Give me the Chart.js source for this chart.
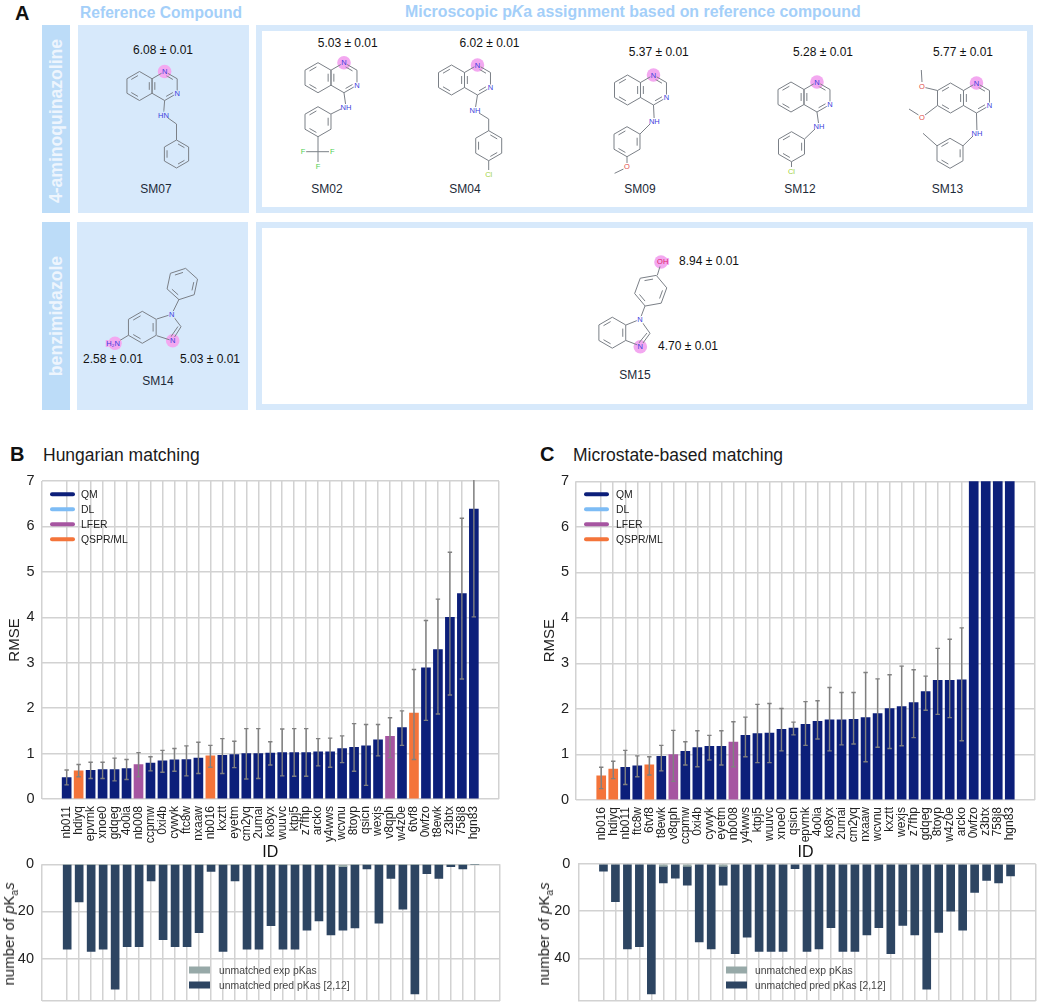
<!DOCTYPE html>
<html>
<head>
<meta charset="utf-8">
<title>pKa figure</title>
<script src="https://cdn.jsdelivr.net/npm/chart.js@4/dist/chart.umd.min.js"></script>
<style>
    html, body { margin: 0; padding: 0; background: #fff; }
    body { position: relative; width: 1039px; height: 1005px; overflow: hidden; font-family: "Liberation Sans", Arial, sans-serif; color: #111; }
    canvas, svg, .abs { position: absolute; }
    svg { left: 0; top: 0; }
    .letter { font-weight: bold; font-size: 20px; }
    .title { font-size: 17.5px; color: #1a1a1a; white-space: nowrap; }
    .head { font-weight: bold; font-size: 15.6px; color: #a4cff9; white-space: nowrap; }
    .side { background: #bcdcf8; }
    .side span { position: absolute; left: 50%; top: 50%; transform: translate(-50%, -50%) rotate(-90deg); color: #eef5fd; font-weight: bold; font-size: 17.6px; white-space: nowrap; }
    .solid { background: #d7e9fb; }
    .frame { box-sizing: border-box; border: 6px solid #d7e9fb; }
    .val, .sm { font-size: 12px; white-space: nowrap; transform: translate(-50%, -50%); }
    .sm { color: #1d2a38; }
    .ylab { font-size: 15px; white-space: nowrap; transform: translate(-50%, -50%) rotate(-90deg); color: #222; }
    .leg { font-size: 10.4px; color: #222; white-space: nowrap; transform: translateY(-50%); }
    .line { height: 3.5px; width: 25px; border-radius: 2px; transform: translateY(-50%); }
    .swatch { height: 7px; width: 21px; transform: translateY(-50%); }
</style>
</head>
<body>
<div class="abs letter" style="left:15px;top:2px">A</div>
<div class="abs head" style="left:80px;top:4px">Reference Compound</div>
<div class="abs head" style="left:405px;top:3px;font-size:15.9px">Microscopic p<i>K</i>a assignment based on reference compound</div>

<div class="abs side" style="left:41.5px;top:25px;width:28.5px;height:192px"><span>4-aminoquinazoline</span></div>
<div class="abs" style="left:41.5px;top:213px;width:28.5px;height:5px;background:#fff"></div>
<div class="abs solid" style="left:78px;top:25px;width:171px;height:188px"></div>
<div class="abs frame" style="left:256px;top:25px;width:777px;height:188px"></div>
<div class="abs side" style="left:41.5px;top:222px;width:28.5px;height:188px"><span>benzimidazole</span></div>
<div class="abs solid" style="left:77px;top:222px;width:171px;height:188px"></div>
<div class="abs frame" style="left:256px;top:222px;width:777px;height:188px"></div>
<svg id="mols" width="1039" height="420"></svg>
<div id="notes"></div>

<div class="abs letter" style="left:10px;top:443px">B</div>
<div class="abs title" style="left:43px;top:445px">Hungarian matching</div>
<div class="abs letter" style="left:540px;top:443px">C</div>
<div class="abs title" style="left:573px;top:445px">Microstate-based matching</div>

<canvas id="rmseHungarian" width="515" height="392" style="left:0;top:470px"></canvas>
<canvas id="rmseMicrostate" width="504" height="392" style="left:535px;top:470px"></canvas>
<canvas id="countHungarian" width="515" height="147" style="left:0;top:858px"></canvas>
<canvas id="countMicrostate" width="504" height="147" style="left:535px;top:858px"></canvas>

<div class="abs ylab" style="left:10px;top:934px">number of <i>p</i>K<sub style="font-size:10px">a</sub><i>s</i></div>
<div class="abs ylab" style="left:545px;top:934px">number of <i>p</i>K<sub style="font-size:10px">a</sub><i>s</i></div>
<div id="legends"></div>

<script>
// Panel B values (Hungarian matching)
const idsB = ['nb011','hdiyq','epvmk','xnoe0','gdqeg','4o0ia','nb008','ccpmw','0xi4b','cywyk','ftc8w','nxaaw','nb016','kxztt','eyetm','cm2yq','2umai','ko8yx','wuuvc','ktpj5','z7fhp','arcko','y4wws','wcvnu','8toyp','qsicn','wexjs','v8qph','w4z0e','6tvf8','0wfzo','t8ewk','z3btx','758j8','hgn83'];
const rmseB = [0.47,0.62,0.63,0.65,0.65,0.67,0.76,0.79,0.84,0.86,0.87,0.90,0.95,0.96,0.98,1.00,1.00,1.01,1.02,1.02,1.02,1.04,1.04,1.11,1.14,1.17,1.30,1.38,1.57,1.89,2.89,3.29,4.00,4.52,6.38];
const lowB = [0.31,0.49,0.45,0.45,0.40,0.43,0.49,0.62,0.59,0.61,0.51,0.56,0.70,0.56,0.69,0.44,0.45,0.75,0.51,0.50,0.50,0.73,0.70,0.80,0.61,0.30,0.95,0.91,1.18,0.87,1.73,1.87,2.29,2.64,4.01];
const highB = [0.64,0.76,0.81,0.81,0.90,0.87,1.02,0.93,1.07,1.11,1.17,1.25,1.18,1.33,1.27,1.55,1.55,1.26,1.54,1.55,1.55,1.33,1.34,1.39,1.66,1.64,1.64,1.79,1.94,2.85,3.93,4.40,5.43,6.18,7.80];
const groupB = ['QM','QSPR/ML','QM','QM','QM','QM','LFER','QM','QM','QM','QM','QM','QSPR/ML','QM','QM','QM','QM','QM','QM','QM','QM','QM','QM','QM','QM','QM','QM','LFER','QM','QSPR/ML','QM','QM','QM','QM','QM'];
const expB = [0,0,0,0,0,0,0,0,0,0,0,0,0,0,0,0,0,0,0,0,0,0,0,1,0,0,0,0,0,0,0,0,0,0,0];
const predB = [36,16,37,36,53,35,35,7,32,35,35,29,3,37,7,36,36,26,36,36,28,24,30,27,27,2,25,6,19,55,4,6,1,2,0];

// Panel C values (Microstate-based matching)
const idsC = ['nb016','hdiyq','nb011','ftc8w','6tvf8','t8ewk','v8qph','ccpmw','0xi4b','cywyk','eyetm','nb008','y4wws','ktpj5','wuuvc','xnoe0','qsicn','epvmk','4o0ia','ko8yx','2umai','cm2yq','nxaaw','wcvnu','kxztt','wexjs','z7fhp','gdqeg','8toyp','w4z0e','arcko','0wfzo','z3btx','758j8','hgn83'];
const rmseC = [0.53,0.68,0.72,0.75,0.77,0.96,1.00,1.07,1.15,1.18,1.18,1.27,1.42,1.46,1.47,1.55,1.58,1.66,1.73,1.76,1.76,1.77,1.81,1.90,2.01,2.05,2.14,2.38,2.63,2.63,2.64,9,9,9,9];
const lowC = [0.25,0.47,0.34,0.51,0.55,0.64,0.41,0.77,0.73,0.88,0.77,0.73,0.95,0.82,0.82,1.08,1.43,1.20,1.34,1.08,1.21,1.23,0.84,1.16,1.13,1.19,1.37,1.97,1.88,1.81,1.30,null,null,null,null];
const highC = [0.72,0.85,1.09,0.97,0.95,1.20,1.53,1.28,1.52,1.42,1.52,1.72,1.82,2.10,2.12,2.01,1.71,2.16,2.18,2.47,2.36,2.36,2.80,2.66,2.75,2.94,2.86,2.72,3.33,3.53,3.78,null,null,null,null];
const groupC = ['QSPR/ML','QSPR/ML','QM','QM','QSPR/ML','QM','LFER','QM','QM','QM','QM','LFER','QM','QM','QM','QM','QM','QM','QM','QM','QM','QM','QM','QM','QM','QM','QM','QM','QM','QM','QM','QM','QM','QM','QM'];
const expC = [0,0,0,0,0,1,0,1,0,0,1,0,0,0,0,0,0,0,0,0,0,0,0,0,0,0,0,0,0,0,0,0,0,0,0];
const predC = [3,16,36,35,55,7,6,8,33,36,8,38,31,37,37,37,2,37,36,27,37,37,30,27,38,26,30,53,29,20,28,12,7,8,5];

const groups = ['QM','DL','LFER','QSPR/ML'];
const groupColors = ['#0c1f7a','#7dbcf5','#a655a1','#f4743a'];
const countNames = ['unmatched exp pKas','unmatched pred pKas [2,12]'];
const countColors = ['#97a9a8','#2d4562'];
const rmseTicks = [0,1,2,3,4,5,6,7];
const countTicks = [0,20,40];
const countMax = 58;

Chart.defaults.font.family = '"Liberation Sans", Arial, sans-serif';
Chart.defaults.color = '#222';
Chart.defaults.animation = false;
Chart.defaults.responsive = false;
Chart.defaults.plugins.legend.display = false;
Chart.defaults.plugins.tooltip.enabled = false;

const gridColor = '#d2d2d2';
const xMin = -2.1, xMax = 36.1;

// keeps the plot rectangle where the layout padding puts it
function noScalePadding(scale) {
    scale.paddingLeft = scale.paddingRight = scale.paddingTop = scale.paddingBottom = 0;
}

// grey whiskers on top of the bars, clipped at the plot edge
const errorBars = {
    id: 'errorBars',
    afterDatasetsDraw(chart, args, opts) {
        const { ctx, chartArea, scales } = chart;
        ctx.save();
        ctx.beginPath();
        ctx.rect(chartArea.left, chartArea.top - 1, chartArea.width, chartArea.height + 2);
        ctx.clip();
        ctx.strokeStyle = '#808080';
        ctx.lineWidth = 1.4;
        opts.low.forEach((low, i) => {
            if (low === null) return;
            const x = scales.x.getPixelForValue(i);
            const y1 = scales.y.getPixelForValue(low);
            const y2 = scales.y.getPixelForValue(opts.high[i]);
            ctx.beginPath();
            ctx.moveTo(x, y1); ctx.lineTo(x, y2);
            ctx.moveTo(x - 2.2, y1); ctx.lineTo(x + 2.2, y1);
            ctx.moveTo(x - 2.2, y2); ctx.lineTo(x + 2.2, y2);
            ctx.stroke();
        });
        ctx.restore();
    }
};

// x axis shared by all four charts: a tick per compound plus the two plot edges
function idAxis(names, height, showLabels) {
    return {
        type: 'linear',
        min: xMin,
        max: xMax,
        offset: false,
        afterBuildTicks: scale => {
            scale.ticks = [xMin, ...names.map((_, i) => i), xMax].map(value => ({ value }));
        },
        afterFit: scale => { scale.height = height; noScalePadding(scale); },
        grid: { color: gridColor, lineWidth: 1.5, drawTicks: false, offset: false },
        border: { display: false },
        ticks: {
            autoSkip: false,
            minRotation: 90,
            maxRotation: 90,
            padding: 7,
            font: { size: 12 },
            color: '#222',
            callback: value => (showLabels && Number.isInteger(value) ? names[value] : '')
        },
        title: { display: showLabels, text: 'ID', font: { size: 16 }, padding: 0, color: '#111' }
    };
}

function rmseChart(canvasId, names, rmse, low, high, group, yWidth, padding) {
    new Chart(document.getElementById(canvasId), {
        type: 'bar',
        data: {
            labels: names.map((_, i) => i),
            datasets: [{
                data: rmse,
                backgroundColor: group.map(g => groupColors[groups.indexOf(g)]),
                barThickness: 9
            }]
        },
        options: {
            layout: { padding },
            scales: {
                x: idAxis(names, padding.xHeight, true),
                y: {
                    min: 0,
                    max: 7,
                    afterBuildTicks: scale => { scale.ticks = rmseTicks.map(value => ({ value })); },
                    afterFit: scale => { scale.width = yWidth; noScalePadding(scale); },
                    grid: { color: gridColor, lineWidth: 1.5, drawTicks: false },
                    border: { display: false },
                    ticks: { padding: 7, font: { size: 14.5 }, color: '#222' },
                    title: { display: true, text: 'RMSE', font: { size: 15 }, padding: { top: 6, bottom: 0 }, color: '#222' }
                }
            },
            plugins: { errorBars: { low, high } }
        },
        plugins: [errorBars]
    });
}

function countChart(canvasId, names, exp, pred, yWidth, padding) {
    new Chart(document.getElementById(canvasId), {
        type: 'bar',
        data: {
            labels: names.map((_, i) => i),
            datasets: [
                { label: countNames[0], data: exp, backgroundColor: countColors[0], barThickness: 8 },
                { label: countNames[1], data: pred, backgroundColor: countColors[1], barThickness: 8 }
            ]
        },
        options: {
            layout: { padding },
            scales: {
                x: Object.assign(idAxis(names, 4, false), { stacked: true }),
                y: {
                    stacked: true,
                    reverse: true,
                    min: 0,
                    max: countMax,
                    afterBuildTicks: scale => { scale.ticks = [...countTicks, countMax].map(value => ({ value })); },
                    afterFit: scale => { scale.width = yWidth; noScalePadding(scale); },
                    grid: { color: gridColor, lineWidth: 1.5, drawTicks: false },
                    border: { display: false },
                    ticks: {
                        padding: 8,
                        font: { size: 14.5 },
                        color: '#222',
                        callback: value => (countTicks.includes(value) ? value : '')
                    }
                }
            }
        }
    });
}

rmseChart('rmseHungarian', idsB, rmseB, lowB, highB, groupB, 41.5, { top: 11, right: 16, left: 0, bottom: 0, xHeight: 63 });
rmseChart('rmseMicrostate', idsC, rmseC, lowC, highC, groupC, 41, { top: 11.3, right: 4, left: 0, bottom: 0, xHeight: 62 });
countChart('countHungarian', idsB, expB, predB, 42, { top: 6.3, right: 15, left: 0, bottom: 0 });
countChart('countMicrostate', idsC, expC, predC, 43.3, { top: 6, right: 3.3, left: 0, bottom: 0 });

// legends sit over the plots at fixed spots, so they are plain html
const legendBox = document.getElementById('legends');
function addDiv(parent, cls, x, y, style, html) {
    const d = document.createElement('div');
    d.className = 'abs ' + cls;
    d.style.cssText = `left:${x}px;top:${y}px;${style || ''}`;
    if (html) d.innerHTML = html;
    parent.appendChild(d);
}
[[50, 81], [584, 616]].forEach(([lineX, textX]) => {
    groups.forEach((g, i) => {
        const y = 494 + i * 15.1;
        addDiv(legendBox, 'line', lineX, y, `background:${groupColors[i]}`);
        addDiv(legendBox, 'leg', textX, y, '', g);
    });
});
[[189.3, 219], [725.7, 755]].forEach(([swatchX, textX]) => {
    countNames.forEach((name, i) => {
        const y = 970 + i * 15;
        addDiv(legendBox, 'swatch', swatchX, y, `background:${countColors[i]}`);
        addDiv(legendBox, 'leg', textX, y, 'color:#444', name);
    });
});

// Panel A: measured values and compound names
const pkaNotes = [
    ['6.08', 163, 50], ['5.03', 347.7, 43], ['6.02', 489.5, 43], ['5.37', 658.8, 52], ['5.28', 823, 52], ['5.77', 963, 52],
    ['2.58', 113, 359], ['5.03', 210, 359], ['8.94', 709, 261], ['4.70', 688, 346]
];
const compoundNotes = [
    ['SM07', 156, 189], ['SM02', 327, 189], ['SM04', 465, 189], ['SM09', 640, 189], ['SM12', 800, 189], ['SM13', 947.4, 189],
    ['SM14', 158, 381], ['SM15', 635, 375]
];
const notes = document.getElementById('notes');
pkaNotes.forEach(([v, x, y]) => addDiv(notes, 'val', x, y, '', v + ' ± 0.01'));
compoundNotes.forEach(([n, x, y]) => addDiv(notes, 'sm', x, y, '', n));

// Panel A: structure sketches
const svg = document.getElementById('mols');
const NS = 'http://www.w3.org/2000/svg';
const bondColor = '#7b8087';
function el(name, attrs, text) {
    const e = document.createElementNS(NS, name);
    for (const k in attrs) e.setAttribute(k, attrs[k]);
    if (text) e.textContent = text;
    svg.appendChild(e);
}
function bond(x1, y1, x2, y2, color) {
    el('line', { x1, y1, x2, y2, stroke: color || bondColor, 'stroke-width': 1 });
}
function halo(x, y) { el('circle', { cx: x, cy: y, r: 6.8, fill: '#f3a8f0' }); }
function atom(x, y, text, color, bg) {
    el('text', {
        x, y: y + 2.6, 'text-anchor': 'middle', 'font-size': 7.5, fill: color || '#3c3cdc',
        'font-family': 'Liberation Sans', stroke: bg || '#fff', 'stroke-width': 2, 'paint-order': 'stroke'
    }, text);
}
// ring with inner lines on alternate edges
function ring(cx, cy, r, rot, inner) {
    const pts = [];
    for (let i = 0; i < 6; i++) {
        const a = (rot + 90 + i * 60) * Math.PI / 180;
        pts.push([cx + r * Math.cos(a), cy + r * Math.sin(a)]);
    }
    pts.forEach((p, i) => {
        const q = pts[(i + 1) % 6];
        bond(p[0], p[1], q[0], q[1]);
        if ((i % 2) === inner) {
            const k = 0.78;
            const ax = cx + (p[0] - cx) * k, ay = cy + (p[1] - cy) * k;
            const bx = cx + (q[0] - cx) * k, by = cy + (q[1] - cy) * k;
            const m = 0.16;
            bond(ax + (bx - ax) * m, ay + (by - ay) * m, bx - (bx - ax) * m, by - (by - ay) * m);
        }
    });
    return pts;
}
// fused quinazoline; returns the carbon that carries the amine
function quinazoline(bx, by, r, bg) {
    const px = bx + r * Math.sqrt(3);
    halo(px, by - r);
    ring(bx, by, r, 0, 0);
    ring(px, by, r, 0, 1);
    atom(px, by - r, 'N', '#3c3cdc', '#f3a8f0');
    atom(px + 0.866 * r, by + 0.5 * r, 'N', '#3c3cdc', bg);
    return [px, by + r];
}
function nh(x1, y1, x, y, bg, text) {
    bond(x1, y1, x, y);
    atom(x, y, text || 'NH', '#3c3cdc', bg);
}
const sky = '#d7e9fb';

// SM07
let c = quinazoline(139.5, 86, 14.5, sky);
nh(c[0], c[1], 163.5, 115, sky, 'HN');
bond(168, 118, 176.5, 124);
bond(176.5, 124, 176.5, 140);
ring(176.5, 154, 14, 0, 1);

// SM02
c = quinazoline(318, 77.7, 15);
nh(c[0], c[1], 346, 107.3);
ring(318, 121.7, 15, 0, 0);
bond(331, 114, 341, 109);
bond(318, 136.7, 318, 151.7);
bond(306, 151.7, 329, 151.7);
bond(318, 151.7, 318, 162);
atom(303, 151.7, 'F', '#4fcf4f');
atom(332.3, 151.7, 'F', '#4fcf4f');
atom(318, 166, 'F', '#4fcf4f');

// SM04
c = quinazoline(451.5, 80, 15);
nh(c[0], c[1], 475, 110.7);
bond(479, 113, 488.7, 119);
bond(488.7, 119, 488.7, 131);
ring(488.7, 145.7, 15, 0, 1);
bond(488.7, 160.7, 488.7, 170);
atom(488.7, 174.7, 'Cl', '#a2d23f');

// SM09
c = quinazoline(627.5, 90, 15);
nh(c[0], c[1], 654.3, 121.7);
ring(627, 141.7, 15, 0, 0);
bond(640, 134, 650, 124);
bond(627, 156.7, 627, 163);
bond(623.5, 169, 614.6, 173.3);
atom(627, 166.7, 'O', '#e04848');

// SM12
c = quinazoline(791, 97, 15);
nh(c[0], c[1], 819, 126.7);
ring(791.5, 146.7, 15, 0, 0);
bond(804.5, 139, 815, 129);
bond(791.5, 161.7, 791.5, 167);
atom(791.5, 171, 'Cl', '#a2d23f');

// SM13
c = quinazoline(950.5, 98, 15);
nh(c[0], c[1], 977, 133.3);
ring(950, 153.3, 15, 0, 0);
bond(963, 145.8, 973, 136);
bond(937, 145.8, 923, 133.3);
bond(937.5, 90.5, 925, 87.5);
bond(922, 82, 921.3, 70);
atom(922, 86, 'O', '#e04848');
bond(937.5, 105.5, 925, 115);
bond(918.5, 115, 909, 109);
atom(922, 117.3, 'O', '#e04848');

// SM14
halo(115, 343.3);
halo(172.7, 340.7);
ring(142.3, 327.3, 16, 0, 0);
ring(182.3, 284, 16, 12, 0);
bond(128.4, 335.3, 119, 341);
bond(156.7, 319, 171.7, 314.3);
bond(156.7, 335.7, 172.3, 340.7);
bond(171.7, 314.3, 179, 299.3);
bond(171.7, 314.3, 181, 326.7);
bond(181, 326.7, 172.3, 340.7);
bond(178, 326.5, 170, 338);
atom(171.7, 314.3, 'N', '#3c3cdc', sky);
atom(172.7, 340.7, 'N', '#3c3cdc', '#f3a8f0');
atom(113, 343.3, 'H₂N', '#3c3cdc', '#f3a8f0');

// SM15
halo(661, 262);
halo(640.3, 346.7);
ring(650.7, 290.7, 16.3, 20, 0);
ring(612.3, 332.7, 15.5, 0, 0);
bond(657.3, 275.3, 660, 266.5);
bond(645, 306, 640, 319.3);
bond(626, 325, 640, 319.3);
bond(626, 340.5, 640.3, 346);
bond(640, 319.3, 650, 333.3);
bond(650, 333.3, 640.3, 346.7);
bond(647, 333, 638, 344);
atom(640, 319.3, 'N');
atom(640.3, 346.7, 'N', '#3c3cdc', '#f3a8f0');
atom(662.7, 261.3, 'OH', '#e0206a', '#f3a8f0');
</script>
</body>
</html>
